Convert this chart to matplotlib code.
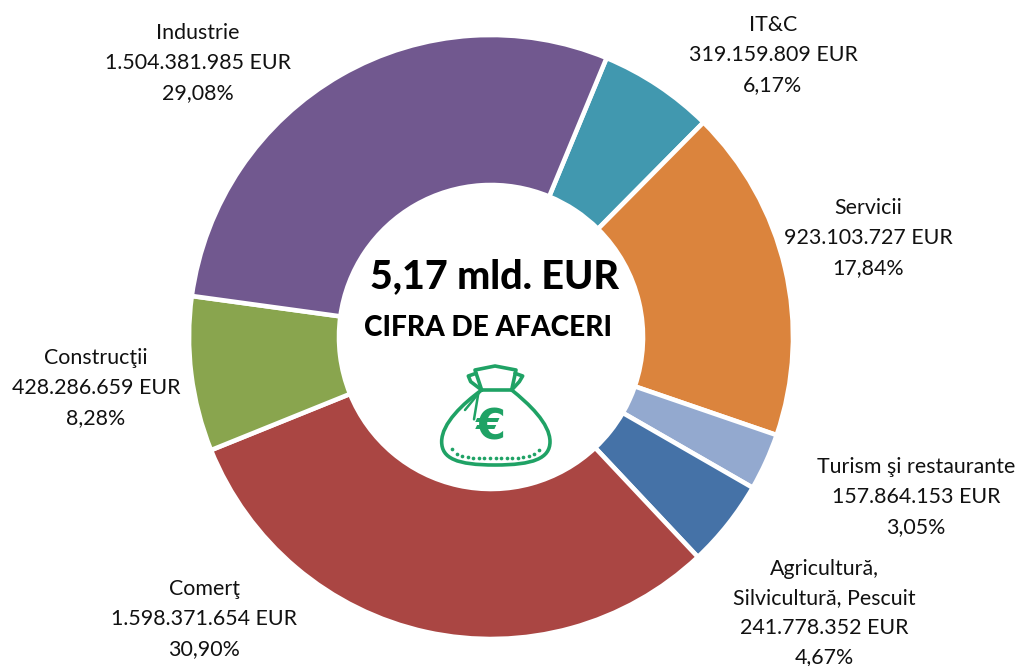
import matplotlib

matplotlib.use("Agg")
import matplotlib.pyplot as plt
from matplotlib.patches import PathPatch
from matplotlib.path import Path

plt.rcParams["font.family"] = ["Lato", "DejaVu Sans"]

# %%
# Data, clockwise from IT&C

sectors = [
    "IT&C",
    "Servicii",
    "Turism şi restaurante",
    "Agricultură,\nSilvicultură, Pescuit",
    "Comerţ",
    "Construcţii",
    "Industrie",
]
values = [319159809, 923103727, 157864153, 241778352, 1598371654, 428286659, 1504381985]
amounts = [
    "319.159.809 EUR",
    "923.103.727 EUR",
    "157.864.153 EUR",
    "241.778.352 EUR",
    "1.598.371.654 EUR",
    "428.286.659 EUR",
    "1.504.381.985 EUR",
]
shares = ["6,17%", "17,84%", "3,05%", "4,67%", "30,90%", "8,28%", "29,08%"]
colors = ["#4198AF", "#DB843D", "#93A9CF", "#4572A7", "#AA4643", "#89A54E", "#71588F"]

# centre of each label block, in image pixels
label_pos = [(773, 55), (868, 238), (916, 497), (824, 613), (204, 619), (96, 388), (198, 63)]

W, H = 1022, 666
GREEN = "#1FA265"

fig = plt.figure(figsize=(W / 100, H / 100), dpi=100)
ax = fig.add_axes([0, 0, 1, 1])

# %%
# Doughnut

ax.pie(
    values,
    colors=colors,
    center=(491, H - 337),
    radius=302,
    startangle=90 - 22.5,
    counterclock=False,
    frame=True,
    wedgeprops=dict(width=150, edgecolor="white", linewidth=3.3),
)
ax.set_xlim(0, W)
ax.set_ylim(0, H)
ax.set_aspect("equal")
ax.axis("off")

for name, amount, share, (x, y) in zip(sectors, amounts, shares, label_pos):
    ax.text(
        x,
        H - y,
        f"{name}\n{amount}\n{share}",
        ha="center",
        va="center",
        fontsize=15.4,
        linespacing=1.6,
        color="#111111",
    )

# %%
# Centre text

ax.text(494, H - 277, "5,17 mld. EUR", ha="center", va="center", fontsize=28.4, weight="black")
ax.text(488, H - 328, "CIFRA DE AFACERI", ha="center", va="center", fontsize=20.2, weight="black")


# %%
# Money bag icon, outline given in pixels of the image


def to_ax(pts):
    return [(400 + px / 3, H - (340 + py / 3)) for px, py in pts]


def outline(pts, codes, lw=2.6):
    patch = PathPatch(
        Path(to_ax(pts), codes),
        facecolor="none",
        edgecolor=GREEN,
        linewidth=lw,
        capstyle="round",
        joinstyle="round",
    )
    ax.add_patch(patch)


M, L, C = Path.MOVETO, Path.LINETO, Path.CURVE4

# body
outline(
    [
        (245, 150),
        (190, 190),
        (125, 250),
        (125, 305),
        (125, 355),
        (170, 375),
        (285, 375),
        (400, 375),
        (450, 355),
        (450, 305),
        (450, 250),
        (385, 190),
        (335, 150),
        (245, 150),
    ],
    [M, C, C, C, C, C, C, C, C, C, C, C, C, L],
)
# knot and ears
outline(
    [(245, 150), (225, 90), (285, 78), (348, 90), (335, 150)],
    [M, L, L, L, L],
)
outline(
    [(228, 100), (205, 108), (212, 125), (245, 150)],
    [M, L, L, L],
)
outline(
    [(345, 100), (368, 108), (358, 125), (335, 150)],
    [M, L, L, L],
)
# string
outline([(240, 155), (195, 210)], [M, L], lw=1.8)
outline([(235, 160), (222, 238)], [M, L], lw=1.8)

dot_x = [155, 170, 187, 203, 220, 237, 253, 270, 287, 303, 320, 337, 353, 370, 387, 403, 418]
dot_y = [328, 343, 348, 351, 353, 354, 354, 355, 355, 355, 354, 354, 353, 351, 348, 343, 330]
ax.scatter(*zip(*to_ax(list(zip(dot_x, dot_y)))), s=7, color=GREEN, linewidths=0)

ax.text(
    400 + 272 / 3,
    H - (340 + 262 / 3),
    "€",
    ha="center",
    va="center",
    fontsize=31,
    weight="bold",
    family="DejaVu Sans",
    color=GREEN,
)

fig.savefig("out.png", dpi=100)
